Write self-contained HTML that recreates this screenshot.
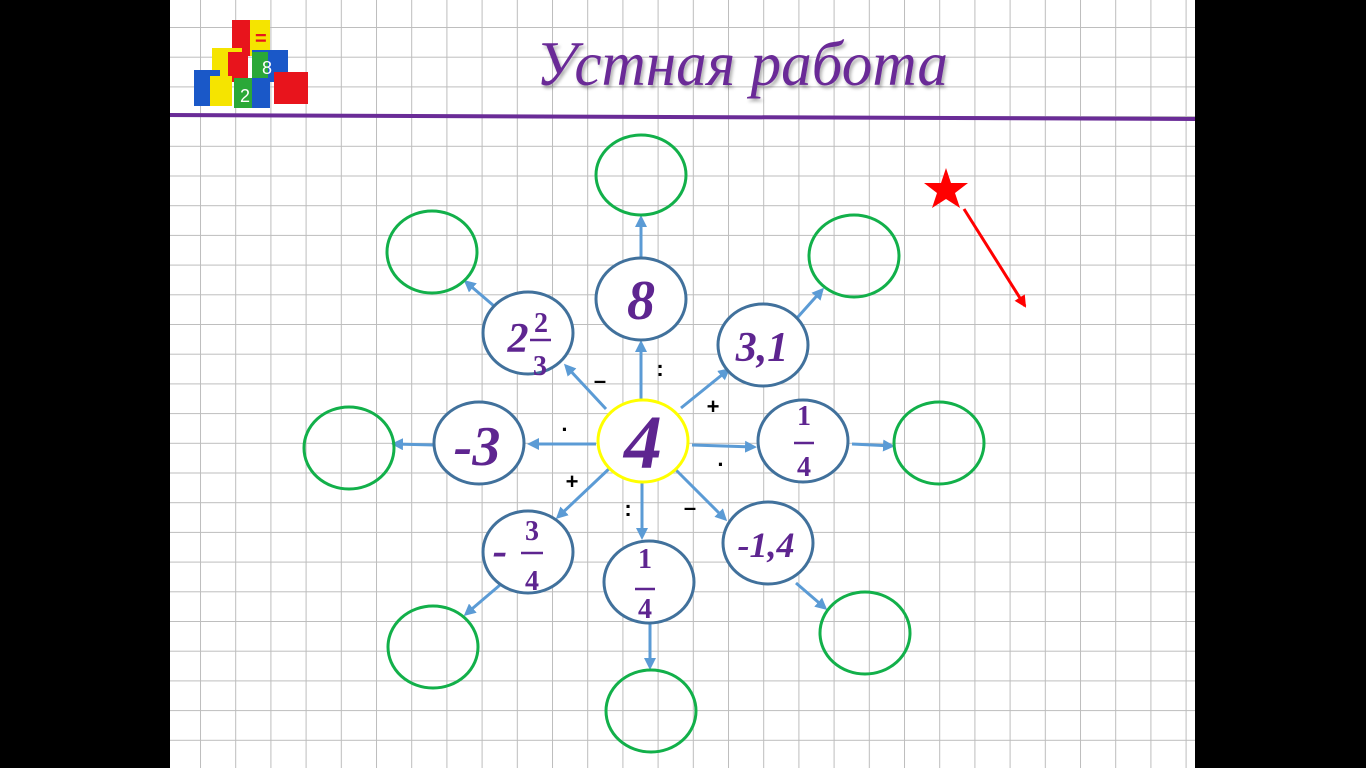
<!DOCTYPE html>
<html><head><meta charset="utf-8"><style>
html,body{margin:0;padding:0;background:#000;}
svg{display:block}
</style></head><body>
<svg width="1366" height="768" viewBox="0 0 1366 768" xmlns="http://www.w3.org/2000/svg">
<defs>
<pattern id="g" x="200" y="27" width="35.2" height="29.7" patternUnits="userSpaceOnUse">
<path d="M0 0V29.7M0 0H35.2" stroke="#bdbdbd" stroke-width="2" fill="none"/>
</pattern>
<marker id="a" markerWidth="12" markerHeight="12" refX="9" refY="6" orient="auto" markerUnits="userSpaceOnUse" viewBox="0 0 12 12">
<path d="M0 0L12 6L0 12z" fill="#5b9bd5"/></marker>
<marker id="r" markerWidth="12" markerHeight="12" refX="10" refY="6" orient="auto" markerUnits="userSpaceOnUse" viewBox="0 0 12 12">
<path d="M0 0L12 6L0 12z" fill="#f00"/></marker>
<filter id="sh"><feDropShadow dx="2" dy="3" stdDeviation="1.5" flood-color="#000" flood-opacity="0.3"/></filter>
</defs>
<rect x="170" y="0" width="1025" height="768" fill="#fff"/>
<rect x="170" y="0" width="1025" height="768" fill="url(#g)"/>
<!-- dice -->
<g>
<rect x="232" y="20" width="38" height="36" fill="#f5e400"/><rect x="232" y="20" width="18" height="36" fill="#e8141c"/>
<rect x="212" y="48" width="30" height="30" fill="#f5e400"/><rect x="228" y="52" width="20" height="30" fill="#e8141c"/>
<rect x="252" y="50" width="36" height="32" fill="#1a58c8"/><rect x="252" y="52" width="16" height="30" fill="#2aa838"/>
<rect x="194" y="70" width="26" height="36" fill="#1a58c8"/><rect x="210" y="76" width="22" height="30" fill="#f5e400"/>
<rect x="234" y="78" width="34" height="30" fill="#2aa838"/><rect x="252" y="78" width="18" height="30" fill="#1a58c8"/>
<rect x="274" y="72" width="34" height="32" fill="#e8141c"/>
<text x="262" y="74" font-family="Liberation Sans" font-size="18" fill="#fff">8</text>
<text x="240" y="102" font-family="Liberation Sans" font-size="18" fill="#fff">2</text>
<text x="255" y="45" font-family="Liberation Sans" font-size="20" fill="#e8141c" font-weight="bold">=</text>
</g>
<text x="742" y="85" text-anchor="middle" font-family="Liberation Serif" font-style="italic" font-size="64" textLength="412" lengthAdjust="spacingAndGlyphs" fill="#6a2c97" filter="url(#sh)">Устная работа</text>
<path d="M170 115L1195 119" stroke="#6a2c97" stroke-width="4"/>
<!-- star -->
<polygon points="946,168 951,183 968,183 955,193 960,208 946,199 932,208 937,193 924,183 941,183" fill="#f00"/>
<line x1="964" y1="209" x2="1025" y2="306" stroke="#f00" stroke-width="3" marker-end="url(#r)"/>
<!-- arrows -->
<g stroke="#5b9bd5" stroke-width="3" fill="none" marker-end="url(#a)">
<line x1="641" y1="399" x2="641" y2="343"/>
<line x1="641" y1="258" x2="641" y2="218"/>
<line x1="606" y1="409" x2="566" y2="366"/>
<line x1="494" y1="306" x2="466" y2="282"/>
<line x1="681" y1="408" x2="728" y2="370"/>
<line x1="797" y1="318" x2="822" y2="290"/>
<line x1="692" y1="445" x2="754" y2="447"/>
<line x1="852" y1="444" x2="892" y2="446"/>
<line x1="596" y1="444" x2="530" y2="444"/>
<line x1="434" y1="445" x2="394" y2="444"/>
<line x1="612" y1="466" x2="558" y2="517"/>
<line x1="500" y1="585" x2="466" y2="614"/>
<line x1="642" y1="480" x2="642" y2="537"/>
<line x1="650" y1="623" x2="650" y2="667"/>
<line x1="673" y1="467" x2="725" y2="519"/>
<line x1="796" y1="583" x2="825" y2="608"/>
</g>
<!-- green circles -->
<g fill="none" stroke="#12b04a" stroke-width="3">
<ellipse cx="641" cy="175" rx="45" ry="40"/>
<ellipse cx="432" cy="252" rx="45" ry="41"/>
<ellipse cx="854" cy="256" rx="45" ry="41"/>
<ellipse cx="939" cy="443" rx="45" ry="41"/>
<ellipse cx="349" cy="448" rx="45" ry="41"/>
<ellipse cx="433" cy="647" rx="45" ry="41"/>
<ellipse cx="651" cy="711" rx="45" ry="41"/>
<ellipse cx="865" cy="633" rx="45" ry="41"/>
</g>
<!-- blue circles -->
<g fill="#fff" stroke="#41719c" stroke-width="3">
<ellipse cx="641" cy="299" rx="45" ry="41"/>
<ellipse cx="528" cy="333" rx="45" ry="41"/>
<ellipse cx="763" cy="345" rx="45" ry="41"/>
<ellipse cx="803" cy="441" rx="45" ry="41"/>
<ellipse cx="479" cy="443" rx="45" ry="41"/>
<ellipse cx="528" cy="552" rx="45" ry="41"/>
<ellipse cx="649" cy="582" rx="45" ry="41"/>
<ellipse cx="768" cy="543" rx="45" ry="41"/>
</g>
<ellipse cx="643" cy="441" rx="45" ry="41" fill="#fff" stroke="#ffff00" stroke-width="3"/>
<g font-family="Liberation Serif" font-style="italic" font-weight="bold" fill="#5e2590" text-anchor="middle">
<text x="643" y="468" font-size="76">4</text>
<text x="641" y="319" font-size="56">8</text>
<text x="762" y="361" font-size="42">3,1</text>
<text x="477" y="465" font-size="56">-3</text>
<text x="766" y="557" font-size="36">-1,4</text>
<text x="518" y="352" font-size="42">2</text>
<text x="500" y="565" font-size="44">-</text>
</g>
<g font-family="Liberation Serif" font-weight="bold" fill="#5e2590" text-anchor="middle" font-size="28">
<text x="541" y="332">2</text><text x="540" y="375">3</text>
<text x="532" y="540">3</text><text x="532" y="590">4</text>
<text x="804" y="425">1</text><text x="804" y="476">4</text>
<text x="645" y="568">1</text><text x="645" y="618">4</text>
</g>
<g stroke="#5e2590" stroke-width="2.5">
<line x1="530" y1="340" x2="551" y2="340"/>
<line x1="521" y1="553" x2="543" y2="553"/>
<line x1="794" y1="443" x2="814" y2="443"/>
<line x1="635" y1="589" x2="655" y2="589"/>
</g>
<g font-family="Liberation Sans" font-weight="bold" fill="#000" font-size="22" text-anchor="middle">
<text x="600" y="388">–</text>
<text x="660" y="376">:</text>
<text x="713" y="414">+</text>
<text x="565" y="437">·</text>
<text x="721" y="472">·</text>
<text x="572" y="489">+</text>
<text x="628" y="516">:</text>
<text x="690" y="515">–</text>
</g>
</svg>
</body></html>
